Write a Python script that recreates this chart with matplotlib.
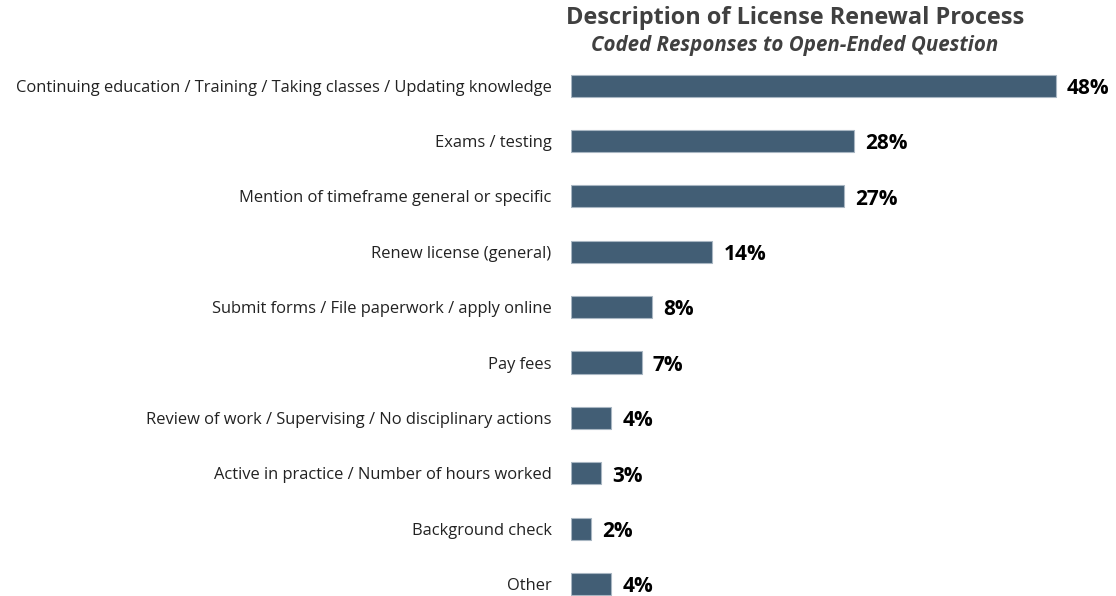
import numpy as np
import matplotlib
matplotlib.use('Agg')
import matplotlib.pyplot as plt

# data
categories = ['Continuing education / Training / Taking classes / Updating knowledge',
              'Exams / testing',
              'Mention of timeframe general or specific',
              'Renew license (general)',
              'Submit forms / File paperwork / apply online',
              'Pay fees',
              'Review of work / Supervising / No disciplinary actions',
              'Active in practice / Number of hours worked',
              'Background check',
              'Other']
values = [48, 28, 27, 14, 8, 7, 4, 3, 2, 4]

plt.rcParams['font.family'] = ['Open Sans', 'DejaVu Sans']

fig = plt.figure(figsize=(11.16, 5.96), dpi=100)
# axes: left edge at bar start, rows spaced like the reference
ax = fig.add_axes([571/1116, 0, 545/1116, 538/596])

y = np.arange(len(categories))
ax.barh(y, values, height=0.4, color='#425E75', edgecolor='#A8B6C2', linewidth=0.8)

for yi, v in zip(y, values):
    ax.text(v + 1.1, yi + 0.05, str(v) + '%', va='center', ha='left',
            fontsize=15, fontweight='bold', color='black')

ax.set_xlim(0, 545/10.1)
ax.set_ylim(9 + 12/55.33, -0.5)
ax.set_yticks(y)
ax.set_yticklabels(categories, fontsize=11.9, color='#222222')
ax.tick_params(axis='y', length=0, pad=14)
ax.set_xticks([])
for s in ax.spines.values():
    s.set_visible(False)

fig.text(795/1116, 1 - 18/596, 'Description of License Renewal Process', ha='center', va='center',
         fontsize=16.9, fontweight='bold', color='#404040')
fig.text(795/1116, 1 - 45/596, 'Coded Responses to Open-Ended Question', ha='center', va='center',
         fontsize=14.8, fontweight='bold', style='italic', color='#404040')

fig.savefig('out.png', dpi=100)
